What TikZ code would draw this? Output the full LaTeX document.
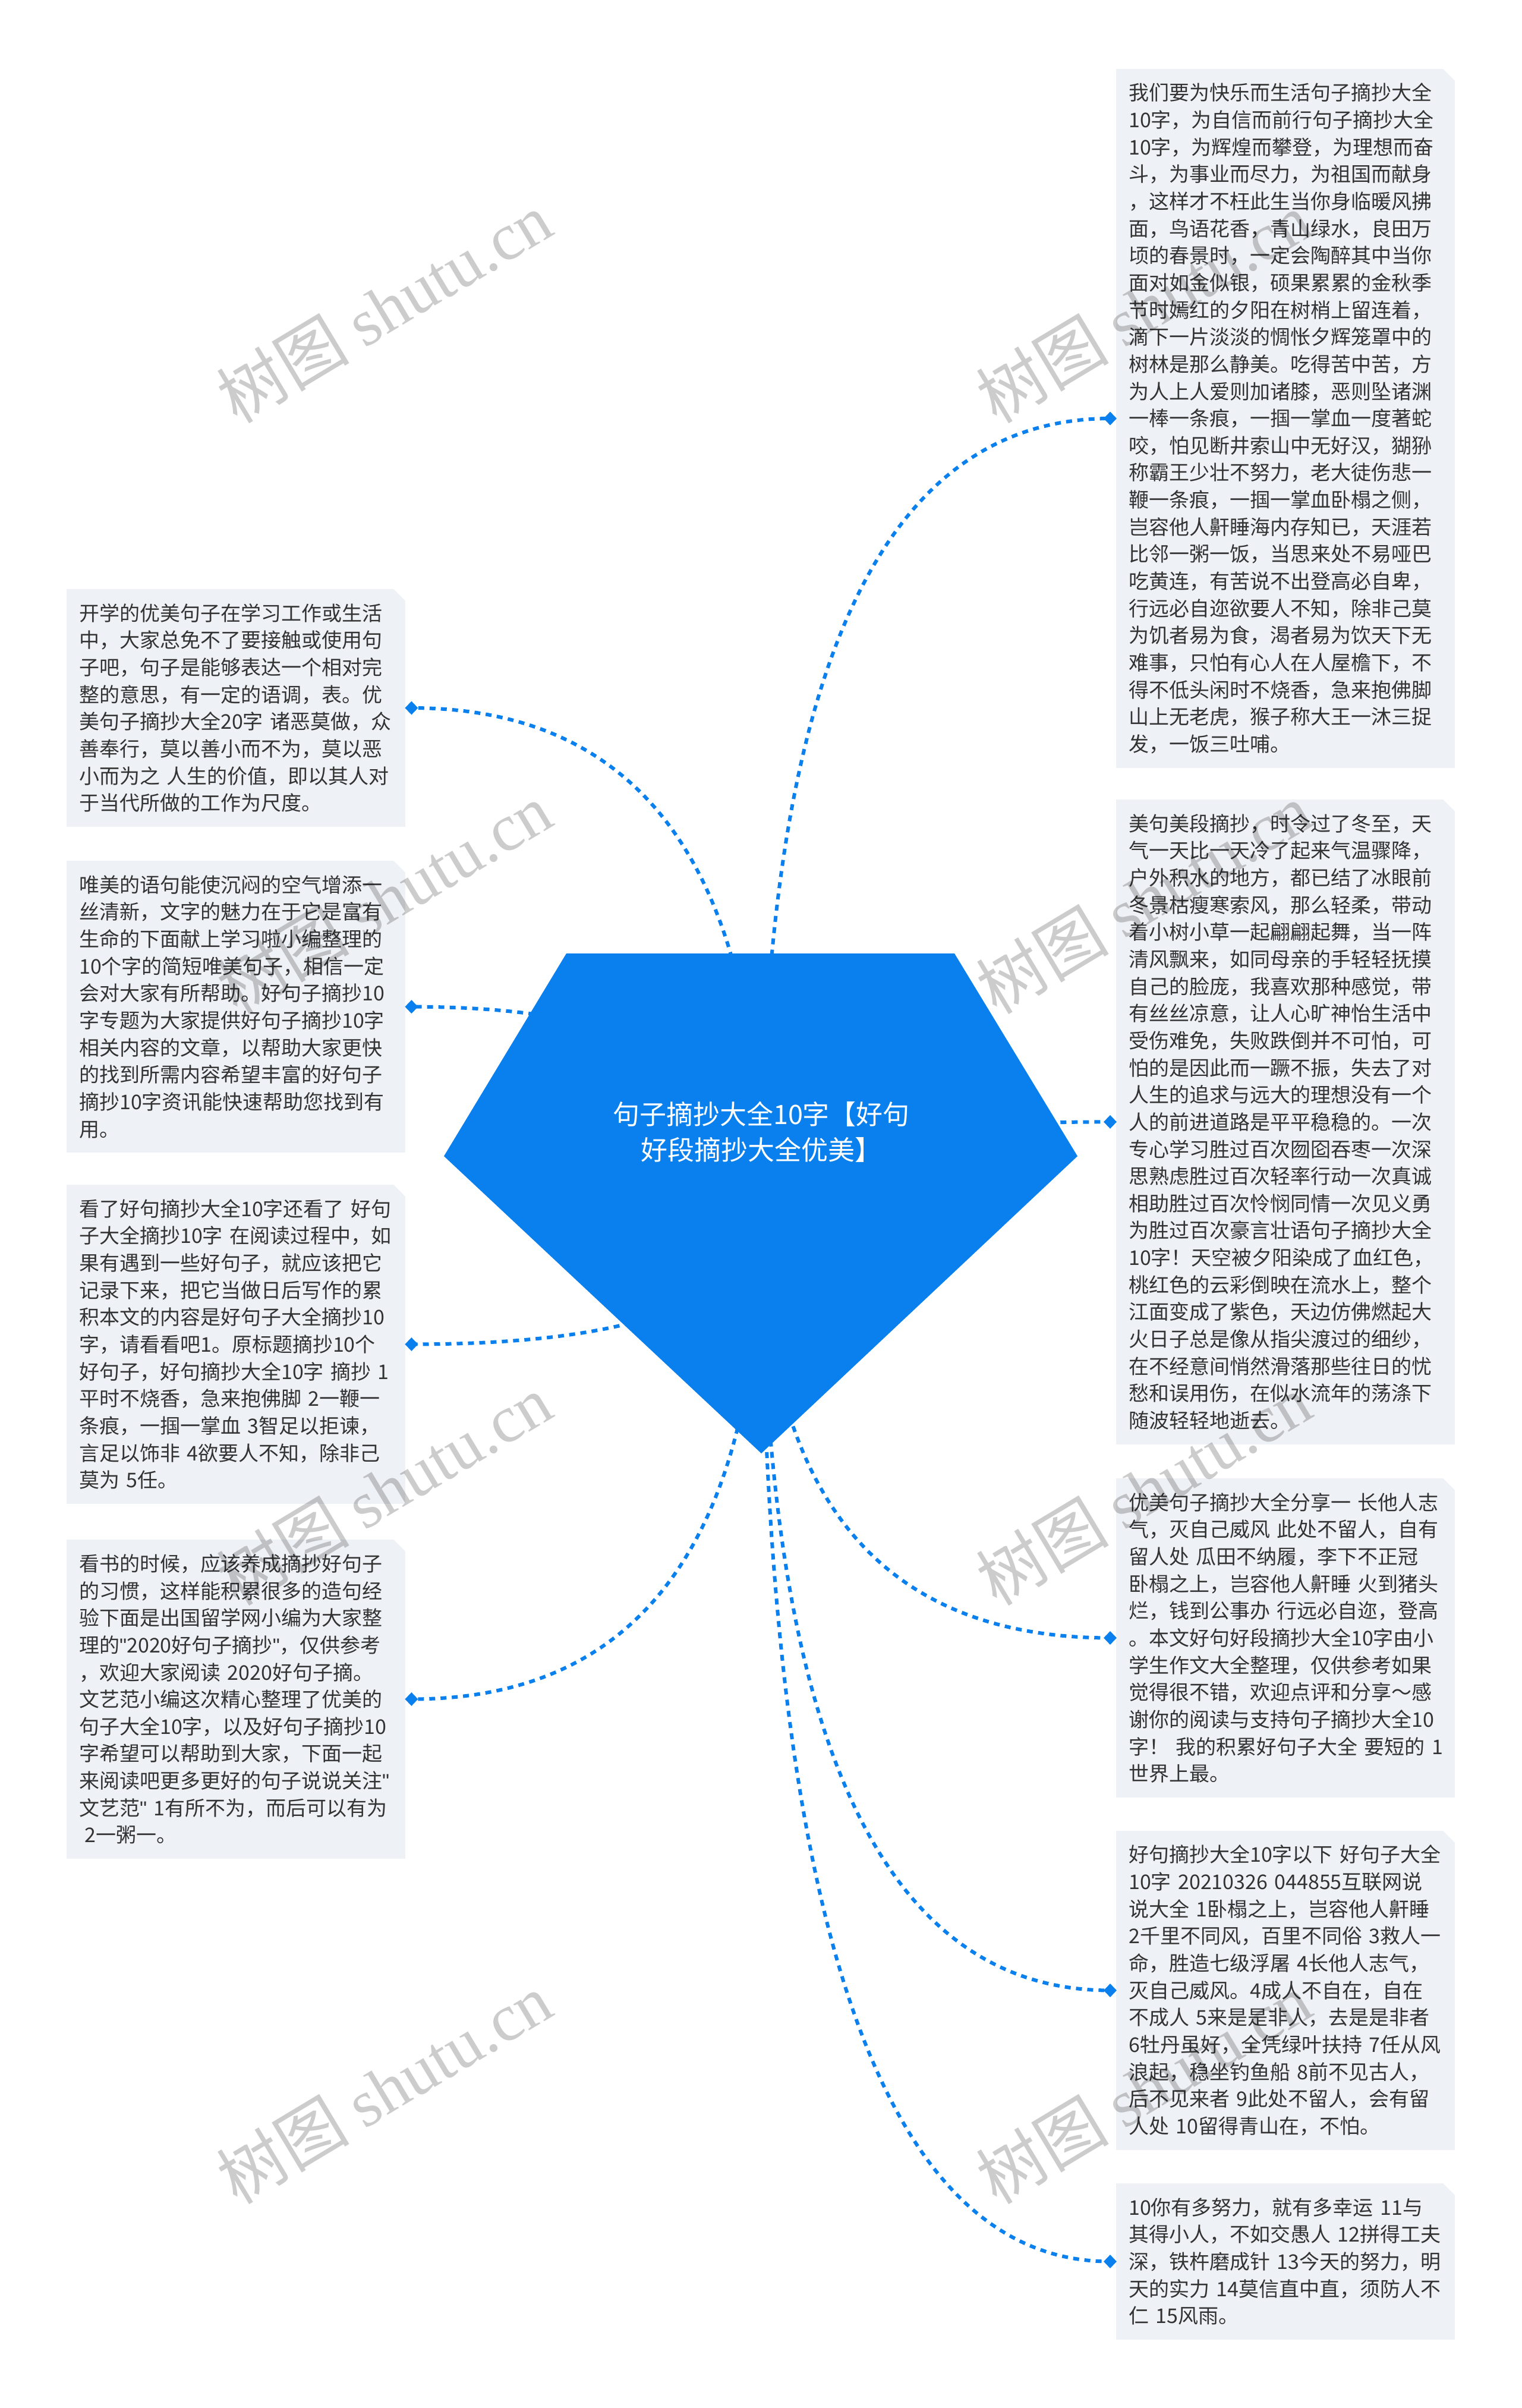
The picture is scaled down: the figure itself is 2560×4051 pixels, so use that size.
\documentclass[tikz,border=0pt]{standalone}
\usepackage{fontspec}
\setmainfont{Noto Sans CJK SC}
\newfontfamily\wmlatin{Liberation Serif}
\newfontfamily\qfont{Liberation Sans}
\newcommand{\sq}{{\qfont"}}
\usetikzlibrary{shapes.geometric,calc}
\definecolor{mainblue}{HTML}{0A80EF}
\definecolor{boxbg}{HTML}{EEF1F6}
\definecolor{txt}{HTML}{333333}
\begin{document}
\begin{tikzpicture}[x=1pt,y=-1pt,
  leaf/.style={rectangle, fill=boxbg, anchor=north west, text width=528pt, inner xsep=21pt, inner ysep=0pt, align=left, text=txt, font=\fontsize{34}{45.65}\selectfont},
  marker/.style={diamond, fill=mainblue, inner sep=0pt, minimum width=22pt, minimum height=23pt},
  conn/.style={draw=mainblue, line width=6pt, dash pattern=on 10pt off 9pt},
  cut/.style={fill=white},
  roottext/.style={text=white, align=center, font=\fontsize{45}{60}\selectfont},
  wm/.style={text=black, opacity=0.2, rotate=31, font=\fontsize{112}{120}\selectfont}
]
\fill[white] (0,0) rectangle (2560,4051);
\useasboundingbox (0,0) rectangle (2560,4051);

% right boxes
\node[leaf, minimum height=1175.6pt] (r1) at (1878,116) {我们要为快乐而生活句子摘抄大全\\10字，为自信而前行句子摘抄大全\\10字，为辉煌而攀登，为理想而奋\\斗，为事业而尽力，为祖国而献身\\，这样才不枉此生当你身临暖风拂\\面，鸟语花香，青山绿水，良田万\\顷的春景时，一定会陶醉其中当你\\面对如金似银，硕果累累的金秋季\\节时嫣红的夕阳在树梢上留连着，\\滴下一片淡淡的惆怅夕辉笼罩中的\\树林是那么静美。吃得苦中苦，方\\为人上人爱则加诸膝，恶则坠诸渊\\一棒一条痕，一掴一掌血一度著蛇\\咬，怕见断井索山中无好汉，猢狲\\称霸王少壮不努力，老大徒伤悲一\\鞭一条痕，一掴一掌血卧榻之侧，\\岂容他人鼾睡海内存知已，天涯若\\比邻一粥一饭，当思来处不易哑巴\\吃黄连，有苦说不出登高必自卑，\\行远必自迩欲要人不知，除非己莫\\为饥者易为食，渴者易为饮天下无\\难事，只怕有心人在人屋檐下，不\\得不低头闲时不烧香，急来抱佛脚\\山上无老虎，猴子称大王一沐三捉\\发，一饭三吐哺。};
\node[leaf, minimum height=1084.3pt] (r2) at (1878,1345) {美句美段摘抄，时令过了冬至，天\\气一天比一天冷了起来气温骤降，\\户外积水的地方，都已结了冰眼前\\冬景枯瘦寒索风，那么轻柔，带动\\着小树小草一起翩翩起舞，当一阵\\清风飘来，如同母亲的手轻轻抚摸\\自己的脸庞，我喜欢那种感觉，带\\有丝丝凉意，让人心旷神怡生活中\\受伤难免，失败跌倒并不可怕，可\\怕的是因此而一蹶不振，失去了对\\人生的追求与远大的理想没有一个\\人的前进道路是平平稳稳的。一次\\专心学习胜过百次囫囵吞枣一次深\\思熟虑胜过百次轻率行动一次真诚\\相助胜过百次怜悯同情一次见义勇\\为胜过百次豪言壮语句子摘抄大全\\10字！天空被夕阳染成了血红色，\\桃红色的云彩倒映在流水上，整个\\江面变成了紫色，天边仿佛燃起大\\火日子总是像从指尖渡过的细纱，\\在不经意间悄然滑落那些往日的忧\\愁和误用伤，在似水流年的荡涤下\\随波轻轻地逝去。};
\node[leaf, minimum height=536.5pt] (r3) at (1878,2487) {优美句子摘抄大全分享一~长他人志\\气，灭自己威风~此处不留人，自有\\留人处~瓜田不纳履，李下不正冠\\卧榻之上，岂容他人鼾睡~火到猪头\\烂，钱到公事办~行远必自迩，登高\\。本文好句好段摘抄大全10字由小\\学生作文大全整理，仅供参考如果\\觉得很不错，欢迎点评和分享～感\\谢你的阅读与支持句子摘抄大全10\\字！~我的积累好句子大全~要短的~1\\世界上最。};
\node[leaf, minimum height=536.5pt] (r4) at (1878,3080) {好句摘抄大全10字以下~好句子大全\\10字~20210326~044855互联网说\\说大全~1卧榻之上，岂容他人鼾睡\\2千里不同风，百里不同俗~3救人一\\命，胜造七级浮屠~4长他人志气，\\灭自己威风。4成人不自在，自在\\不成人~5来是是非人，去是是非者\\6牡丹虽好，全凭绿叶扶持~7任从风\\浪起，稳坐钓鱼船~8前不见古人，\\后不见来者~9此处不留人，会有留\\人处~10留得青山在，不怕。};
\node[leaf, minimum height=262.6pt] (r5) at (1878,3673) {10你有多努力，就有多幸运~11与\\其得小人，不如交愚人~12拼得工夫\\深，铁杵磨成针~13今天的努力，明\\天的实力~14莫信直中直，须防人不\\仁~15风雨。};

% left boxes
\node[leaf, minimum height=399.6pt] (l1) at (112,991) {开学的优美句子在学习工作或生活\\中，大家总免不了要接触或使用句\\子吧，句子是能够表达一个相对完\\整的意思，有一定的语调，表。优\\美句子摘抄大全20字~诸恶莫做，众\\善奉行，莫以善小而不为，莫以恶\\小而为之~人生的价值，即以其人对\\于当代所做的工作为尺度。};
\node[leaf, minimum height=490.9pt] (l2) at (112,1448) {唯美的语句能使沉闷的空气增添一\\丝清新，文字的魅力在于它是富有\\生命的下面献上学习啦小编整理的\\10个字的简短唯美句子，相信一定\\会对大家有所帮助。好句子摘抄10\\字专题为大家提供好句子摘抄10字\\相关内容的文章，以帮助大家更快\\的找到所需内容希望丰富的好句子\\摘抄10字资讯能快速帮助您找到有\\用。};
\node[leaf, minimum height=536.5pt] (l3) at (112,1993) {看了好句摘抄大全10字还看了~好句\\子大全摘抄10字~在阅读过程中，如\\果有遇到一些好句子，就应该把它\\记录下来，把它当做日后写作的累\\积本文的内容是好句子大全摘抄10\\字，请看看吧1。原标题摘抄10个\\好句子，好句摘抄大全10字~摘抄~1\\平时不烧香，急来抱佛脚~2一鞭一\\条痕，一掴一掌血~3智足以拒谏，\\言足以饰非~4欲要人不知，除非己\\莫为~5任。};
\node[leaf, minimum height=536.5pt] (l4) at (112,2590) {看书的时候，应该养成摘抄好句子\\的习惯，这样能积累很多的造句经\\验下面是出国留学网小编为大家整\\理的\sq2020好句子摘抄\sq，仅供参考\\，欢迎大家阅读~2020好句子摘。\\文艺范小编这次精心整理了优美的\\句子大全10字，以及好句子摘抄10\\字希望可以帮助到大家，下面一起\\来阅读吧更多更好的句子说说关注\sq\\文艺范\sq~1有所不为，而后可以有为\\\hspace*{9pt}2一粥一。};

% chamfered corners
\foreach \b in {r1,r2,r3,r4,r5,l1,l2,l3,l4}{
  \fill[cut] ([xshift=-20pt]\b.north east) -- (\b.north east) -- ([yshift=-20pt]\b.north east) -- cycle;
}

% connector end points
\coordinate (c) at (1281,2025);
\foreach \b in {r1,r2,r3,r4,r5}{ \coordinate (e\b) at ([xshift=-10pt]\b.west); }
\foreach \b in {l1,l2,l3,l4}{ \coordinate (e\b) at ([xshift=10pt]\b.east); }

% connectors
\foreach \b in {r1,r2,r3,r4,r5,l1,l2,l3,l4}{
  \draw[conn] (c) .. controls ($(c)!0.6667!(c|-e\b)$) and ($(e\b)!0.6667!(c|-e\b)$) .. (e\b);
}
\foreach \b in {r1,r2,r3,r4,r5,l1,l2,l3,l4}{ \node[marker] (m\b) at (e\b) {}; }

% root
\fill[mainblue] (953,1604) -- (1606,1604) -- (1813,1945) -- (1281,2445) -- (747,1945) -- cycle;
\node[roottext] (root) at (1281,1904) {句子摘抄大全10字【好句\\好段摘抄大全优美】};

% watermarks
\node[wm] (w1) at (646,517) {树图 {\wmlatin shutu.cn}};
\node[wm] (w2) at (1924,517) {树图 {\wmlatin shutu.cn}};
\node[wm] (w3) at (646,1511) {树图 {\wmlatin shutu.cn}};
\node[wm] (w4) at (1924,1511) {树图 {\wmlatin shutu.cn}};
\node[wm] (w5) at (646,2506) {树图 {\wmlatin shutu.cn}};
\node[wm] (w6) at (1924,2506) {树图 {\wmlatin shutu.cn}};
\node[wm] (w7) at (646,3513) {树图 {\wmlatin shutu.cn}};
\node[wm] (w8) at (1924,3513) {树图 {\wmlatin shutu.cn}};
\end{tikzpicture}
\end{document}
